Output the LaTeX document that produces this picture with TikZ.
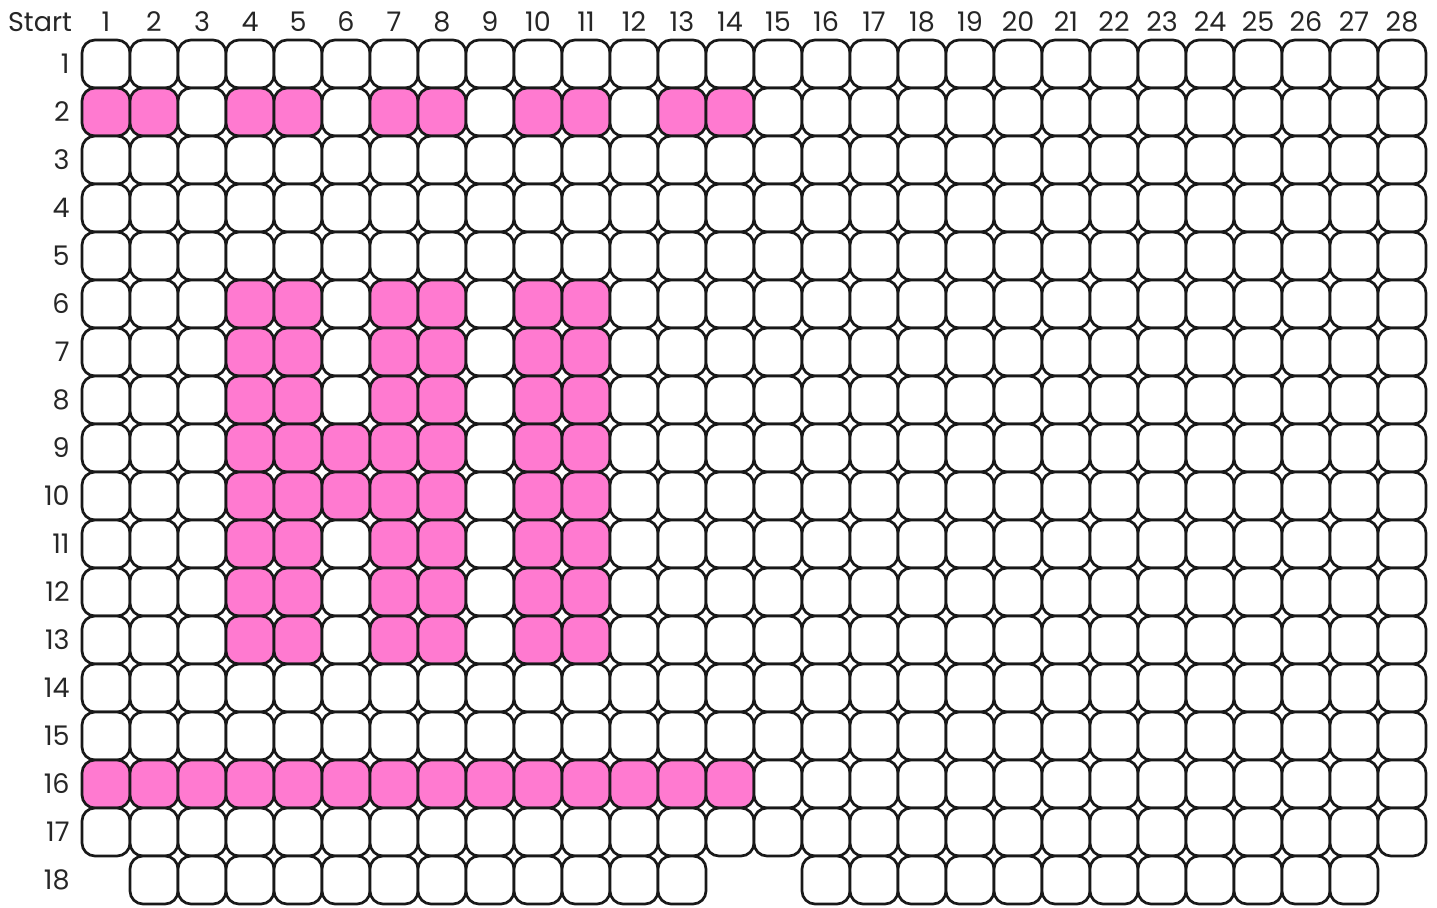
\documentclass[tikz,border=0pt]{standalone}
\usepackage{fontspec}
\setmainfont{Poppins}
\definecolor{pinkcell}{HTML}{FF7AD0}
\makeatletter
\newcommand\pinklist{,2-1,2-2,2-4,2-5,2-7,2-8,2-10,2-11,2-13,2-14,%
6-4,6-5,6-7,6-8,6-10,6-11,%
7-4,7-5,7-7,7-8,7-10,7-11,%
8-4,8-5,8-7,8-8,8-10,8-11,%
9-4,9-5,9-6,9-7,9-8,9-10,9-11,%
10-4,10-5,10-6,10-7,10-8,10-10,10-11,%
11-4,11-5,11-7,11-8,11-10,11-11,%
12-4,12-5,12-7,12-8,12-10,12-11,%
13-4,13-5,13-7,13-8,13-10,13-11,%
16-1,16-2,16-3,16-4,16-5,16-6,16-7,16-8,16-9,16-10,16-11,16-12,16-13,16-14,}
\newcommand\setcellfill[2]{\edef\cellchk{\noexpand\in@{,#1-#2,}{\pinklist}}\cellchk
  \ifin@\def\cellfill{pinkcell}\else\def\cellfill{white}\fi}
\makeatother
\begin{document}
\begin{tikzpicture}[x=0.5pt,y=-0.5pt,
  cell/.style={draw=black!90,line width=1.35pt,rounded corners=6.5pt,minimum size=24pt,inner sep=0pt},
  lab/.style={font=\fontsize{13.5}{16}\selectfont,inner sep=0pt,text=black!85}]
\useasboundingbox (0,0) rectangle (1437,907);
\foreach \r in {1,...,17} {
  \foreach \c in {1,...,28} {
    \setcellfill{\r}{\c}
    \node[cell,fill=\cellfill] (cell-\r-\c) at ({106+48*(\c-1)},{64+48*(\r-1)}) {};
  }
}
\foreach \c in {2,...,13,16,17,...,27} {
  \node[cell,fill=white] (cell-18-\c) at ({106+48*(\c-1)},{64+48*17}) {};
}
\node[lab] (start) at (40,22) {Start};
\foreach \c in {1,...,28} {
  \node[lab] (col-\c) at ({106+48*(\c-1)},22) {\c};
}
\foreach \r in {1,...,18} {
  \node[lab,anchor=east] (row-\r) at (70,{64+48*(\r-1)}) {\r};
}
\end{tikzpicture}
\end{document}
